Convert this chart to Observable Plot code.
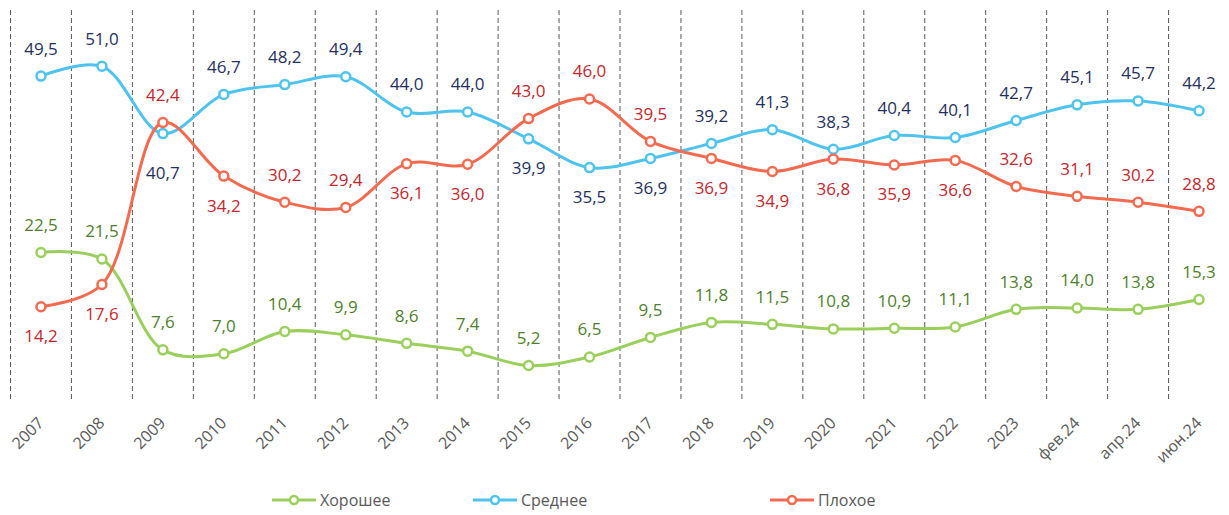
<!DOCTYPE html>
<html>
<head>
<meta charset="utf-8">
<script src="https://cdn.jsdelivr.net/npm/d3@7"></script>
<script src="https://cdn.jsdelivr.net/npm/@observablehq/plot@0.6"></script>
<style>
  html, body { margin: 0; padding: 0; background: #fff; }
  #chart { width: 1229px; }
  #legend { position: relative; width: 1229px; height: 30px; font-family: "Open Sans", sans-serif; font-size: 16px; color: #595959; }
  .item { position: absolute; top: 4px; display: flex; align-items: center; }
  .item svg { margin-right: 4px; }
</style>
</head>
<body>
<div id="chart"></div>
<div id="legend"></div>
<script>
const categories = ["2007","2008","2009","2010","2011","2012","2013","2014","2015","2016","2017","2018","2019","2020","2021","2022","2023","фев.24","апр.24","июн.24"];
const good   = [22.5,21.5,7.6,7.0,10.4,9.9,8.6,7.4,5.2,6.5,9.5,11.8,11.5,10.8,10.9,11.1,13.8,14.0,13.8,15.3];
const medium = [49.5,51.0,40.7,46.7,48.2,49.4,44.0,44.0,39.9,35.5,36.9,39.2,41.3,38.3,40.4,40.1,42.7,45.1,45.7,44.2];
const bad    = [14.2,17.6,42.4,34.2,30.2,29.4,36.1,36.0,43.0,46.0,39.5,36.9,34.9,36.8,35.9,36.6,32.6,31.1,30.2,28.8];
const seriesNames = ["Хорошее","Среднее","Плохое"];
// categories whose value label sits below the marker
const goodBelow = [];
const mediumBelow = ["2009","2015","2016","2017"];
const badBelow = ["2007","2008","2010","2013","2014","2018","2019","2020","2021","2022"];

const lineColors = {"Хорошее": "#9BCF5C", "Среднее": "#4EC3EE", "Плохое": "#F26B50"};
const labelColors = {"Хорошее": "#4F7F2C", "Среднее": "#1F3060", "Плохое": "#C3262E"};

const rows = [];
[[seriesNames[0], good, goodBelow], [seriesNames[1], medium, mediumBelow], [seriesNames[2], bad, badBelow]].forEach(([name, vals, below]) => {
  vals.forEach((v, i) => rows.push({series: name, i, cat: categories[i], value: v, below: below.includes(categories[i])}));
});
const fmt = v => v.toFixed(1).replace(".", ",");
const idx = categories.map((_, i) => i);
const bounds = d3.range(categories.length + 1).map(i => i - 0.5);

const font = "Open Sans, sans-serif";
const marks = [
  Plot.ruleX(bounds, {x: d => d, y1: 0, y2: 60, stroke: "#595959", strokeWidth: 1, strokeDasharray: "5,3"}),
];
for (const name of seriesNames) {
  const data = rows.filter(r => r.series === name);
  marks.push(Plot.line(data, {x: "i", y: "value", stroke: lineColors[name], strokeWidth: 3, curve: "catmull-rom"}));
}
for (const name of seriesNames) {
  const data = rows.filter(r => r.series === name);
  marks.push(Plot.dot(data, {x: "i", y: "value", r: 4.5, fill: "white", stroke: lineColors[name], strokeWidth: 2.5}));
  marks.push(Plot.text(data.filter(d => !d.below), {x: "i", y: "value", text: d => fmt(d.value), dy: -27, fill: labelColors[name], fontSize: 17, fontFamily: font}));
  marks.push(Plot.text(data.filter(d => d.below && d.cat !== "2009"), {x: "i", y: "value", text: d => fmt(d.value), dy: 30, fill: labelColors[name], fontSize: 17, fontFamily: font}));
  marks.push(Plot.text(data.filter(d => d.below && d.cat === "2009"), {x: "i", y: "value", text: d => fmt(d.value), dy: 40, fill: labelColors[name], fontSize: 17, fontFamily: font}));
}
marks.push(Plot.axisX(idx, {tickFormat: i => categories[i], tickRotate: -45, tickSize: 0, tickPadding: 21, fontSize: 16, fill: "#595959", fontFamily: font, label: null}));

const chart = Plot.plot({
  width: 1229,
  height: 485,
  marginLeft: 10,
  marginRight: 0,
  marginTop: 7,
  marginBottom: 86,
  x: {type: "linear", domain: [-0.5, categories.length - 0.5], label: null},
  y: {domain: [0, 60], axis: null},
  style: {fontFamily: font, overflow: "visible"},
  marks
});
document.getElementById("chart").appendChild(chart);

const legend = document.getElementById("legend");
const lefts = [272, 473, 770];
seriesNames.forEach((name, k) => {
  const item = document.createElement("div");
  item.className = "item";
  item.style.left = lefts[k] + "px";
  item.innerHTML = `<svg width="44" height="12"><line x1="0" x2="44" y1="6" y2="6" stroke="${lineColors[name]}" stroke-width="3"/><circle cx="22" cy="6" r="4" fill="white" stroke="${lineColors[name]}" stroke-width="2.5"/></svg><span>${name}</span>`;
  legend.appendChild(item);
});
</script>
</body>
</html>
